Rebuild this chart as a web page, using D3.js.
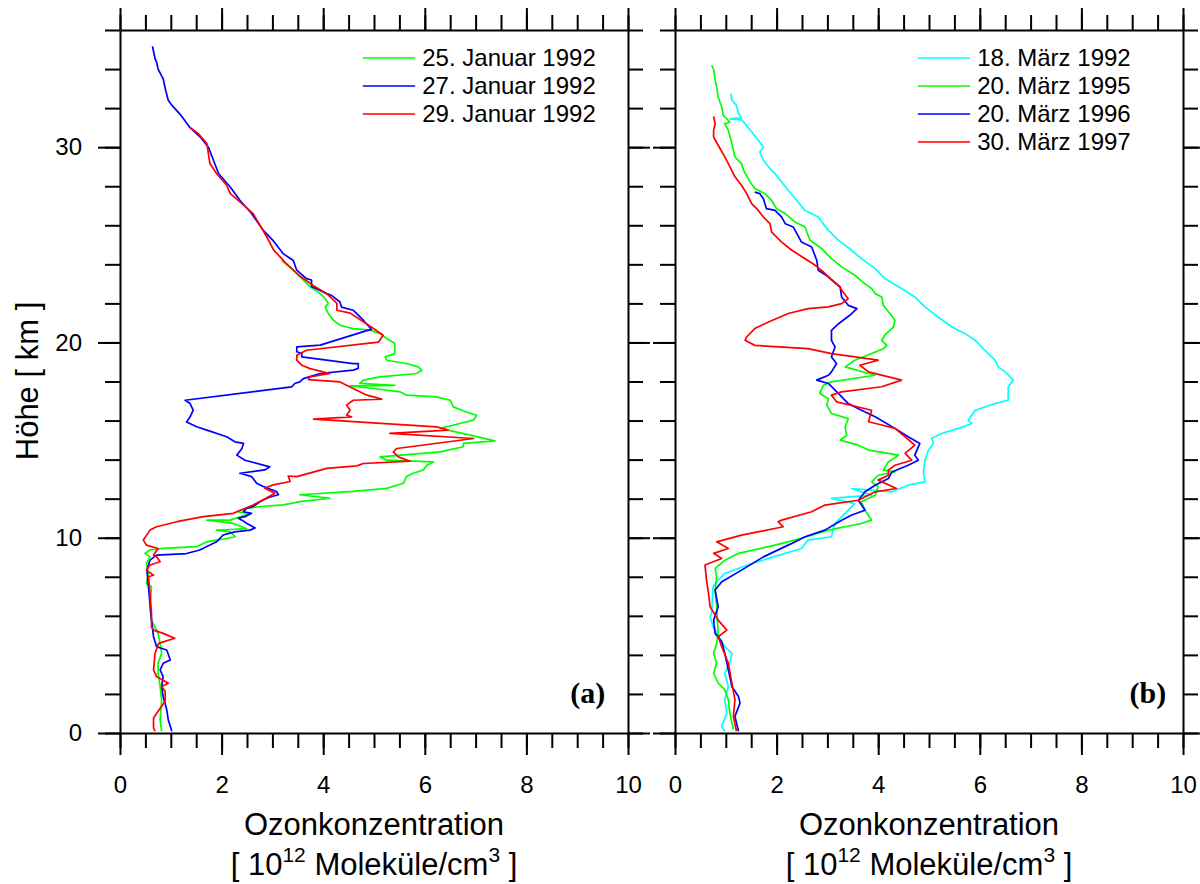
<!DOCTYPE html>
<html>
<head>
<meta charset="utf-8">
<script src="https://d3js.org/d3.v7.min.js"></script>
<style>
  body { margin: 0; background: #fff; }
  svg { display: block; font-family: "Liberation Sans", Arial, sans-serif; }
  .axis path, .axis line { stroke: #000; stroke-width: 2; }
  .axis text { font-size: 24px; fill: #000; font-family: "Liberation Sans", Arial, sans-serif; }
</style>
</head>
<body>
<svg id="chart" width="1200" height="884"></svg>
<script>
// ozone profiles, [concentration (1e12 molecules/cm3), height km], read from top down

// panel (a)
let jan25 = [[3.18,24.2],[3.41,23.7],[3.58,23.27],[3.74,22.86],[3.94,22.5],[4.04,22.25],[4.1,22.0],[4.04,21.81],[4.1,21.48],[4.2,21.14],[4.33,20.88],[4.59,20.71],[4.92,20.63],[5.12,20.45],[5.25,20.2],[5.41,19.95],[5.41,19.43],[5.22,19.26],[5.25,19.09],[5.64,18.92],[5.87,18.75],[5.94,18.58],[5.84,18.41],[5.12,18.24],[4.79,18.07],[4.72,17.9],[5.41,17.8],[4.53,17.78],[4.99,17.64],[5.51,17.47],[5.64,17.3],[6.23,17.21],[6.5,17.04],[6.56,16.7],[6.82,16.44],[7.02,16.27],[6.96,16.02],[6.69,15.85],[6.3,15.6],[6.89,15.25],[7.38,14.96],[6.76,14.83],[6.76,14.66],[6.3,14.4],[5.12,14.14],[5.25,13.97],[6.17,13.88],[6.04,13.71],[5.97,13.47],[5.77,13.3],[5.64,13.13],[5.58,12.79],[5.25,12.53],[4.59,12.37],[3.54,12.2],[4.13,12.02],[3.54,11.85],[3.22,11.68],[2.76,11.6],[2.49,11.5],[2.3,11.33],[2.56,11.25],[2.17,10.9],[1.71,10.9],[2.23,10.73],[2.49,10.47],[2.17,10.42],[1.9,10.39],[2.17,10.3],[2.27,10.05],[2.1,9.96],[1.9,9.88],[1.71,9.79],[1.51,9.54],[0.85,9.45],[0.59,9.37],[0.49,9.2],[0.59,9.03],[0.52,8.69],[0.56,8.17],[0.52,7.66],[0.62,7.49],[0.59,6.47],[0.62,5.78],[0.75,5.1],[0.79,4.59],[0.82,4.08],[0.75,3.57],[0.75,3.06],[0.79,2.38],[0.82,1.7],[0.79,0.68],[0.82,0.09]];

let jan27 = [[0.64,35.17],[0.69,34.53],[0.72,34.36],[0.75,34.0],[0.85,33.5],[0.9,32.9],[0.95,32.4],[1.02,32.15],[1.21,31.6],[1.38,31.0],[1.58,30.52],[1.74,30.0],[1.84,29.33],[1.94,28.65],[2.17,27.96],[2.36,27.28],[2.59,26.6],[2.82,25.74],[3.02,25.2],[3.21,24.55],[3.41,24.2],[3.48,23.7],[3.67,23.27],[3.77,23.2],[3.77,22.86],[4.07,22.5],[4.17,22.4],[4.33,22.07],[4.36,21.81],[4.59,21.65],[4.79,21.14],[4.95,20.66],[4.89,20.63],[3.94,19.86],[3.48,19.77],[3.48,19.52],[3.58,19.43],[3.58,19.26],[4.59,18.92],[4.69,18.92],[4.69,18.67],[4.59,18.58],[3.94,18.41],[3.61,18.15],[3.54,17.98],[3.44,17.9],[3.38,17.72],[1.28,17.04],[1.38,16.87],[1.44,16.53],[1.38,16.19],[1.31,15.93],[1.51,15.68],[1.71,15.51],[2.1,15.17],[2.26,14.91],[2.43,14.83],[2.4,14.57],[2.3,14.23],[2.46,13.97],[2.95,13.63],[2.85,13.47],[2.36,13.3],[2.59,13.13],[2.69,12.79],[2.82,12.62],[3.08,12.37],[3.12,12.2],[2.99,12.11],[2.89,12.02],[2.76,11.85],[2.62,11.6],[2.49,11.5],[2.43,11.33],[2.59,11.25],[2.46,11.08],[2.33,11.0],[2.4,10.9],[2.5,10.73],[2.66,10.5],[2.56,10.39],[2.26,10.3],[2.03,10.14],[1.9,9.79],[1.57,9.37],[1.31,9.19],[0.72,9.11],[0.59,8.85],[0.53,8.34],[0.56,7.49],[0.59,6.64],[0.62,5.78],[0.66,4.93],[0.72,4.42],[0.92,4.25],[0.99,3.74],[0.85,3.57],[0.79,3.23],[0.85,2.89],[0.82,2.38],[0.85,1.87],[0.92,1.19],[0.95,0.68],[1.02,0.09]];

let jan29 = [[1.38,31.0],[1.54,30.7],[1.71,30.18],[1.74,29.67],[1.77,29.16],[1.9,28.65],[2.1,28.05],[2.17,27.62],[2.36,27.2],[2.62,26.6],[2.89,25.4],[3.02,24.75],[3.25,24.1],[3.54,23.4],[3.81,22.9],[4.07,22.5],[4.27,22.0],[4.27,21.65],[4.53,21.5],[4.79,21.06],[4.99,20.71],[5.18,20.37],[5.09,20.02],[3.67,19.6],[3.48,19.34],[3.48,19.09],[3.58,18.83],[3.74,18.66],[4.13,18.41],[3.74,18.24],[3.71,18.1],[4.33,17.98],[4.53,17.72],[4.86,17.3],[5.15,17.1],[4.59,17.04],[4.46,16.79],[4.53,16.53],[4.46,16.27],[4.56,16.19],[3.81,16.07],[6.23,15.68],[6.46,15.51],[5.31,15.34],[6.96,15.08],[5.45,14.57],[5.38,14.4],[5.48,14.14],[5.71,13.92],[4.79,13.8],[4.66,13.68],[4.07,13.55],[3.48,13.13],[3.31,13.16],[3.35,12.88],[3.02,12.71],[2.85,12.54],[3.05,12.28],[2.82,11.94],[2.62,11.68],[2.23,11.25],[1.64,11.08],[1.12,10.82],[0.72,10.56],[0.59,10.39],[0.46,9.88],[0.52,9.62],[0.75,9.45],[0.66,9.11],[0.72,9.03],[0.79,8.77],[0.59,8.6],[0.52,8.34],[0.66,8.08],[0.56,8.0],[0.59,7.15],[0.62,6.13],[0.62,5.44],[0.66,5.27],[0.85,5.1],[1.08,4.85],[0.76,4.59],[0.69,4.08],[0.66,3.23],[0.72,2.89],[0.95,2.55],[0.82,2.38],[0.89,2.13],[0.89,1.62],[0.75,1.11],[0.66,0.77],[0.66,0.26],[0.69,0.09]];

// panel (b)
let mar1992 = [[1.1,32.74],[1.12,32.4],[1.21,32.14],[1.25,31.72],[1.31,31.5],[1.08,31.45],[1.31,31.4],[1.38,31.2],[1.64,30.35],[1.74,30.0],[1.67,29.75],[1.74,29.33],[1.87,28.9],[1.97,28.64],[2.23,27.79],[2.56,26.76],[2.82,26.42],[2.89,26.17],[3.02,25.74],[3.22,25.23],[3.48,24.72],[3.67,24.29],[3.94,23.78],[4.13,23.27],[4.46,22.76],[4.72,22.33],[4.92,21.82],[5.18,21.3],[5.45,20.79],[5.71,20.45],[5.91,20.11],[6.1,19.6],[6.3,19.09],[6.36,18.75],[6.5,18.49],[6.66,18.07],[6.56,17.73],[6.56,17.04],[6.3,16.87],[5.91,16.53],[5.77,16.02],[5.84,15.85],[5.64,15.65],[5.25,15.34],[5.05,15.08],[5.09,14.83],[4.99,14.49],[4.92,13.97],[4.89,13.37],[4.92,12.86],[4.59,12.69],[4.27,12.35],[3.48,12.52],[3.87,12.18],[3.08,12.01],[3.54,11.75],[3.28,11.07],[3.15,10.73],[3.08,10.05],[2.62,9.88],[2.49,9.45],[1.84,8.94],[1.51,8.68],[0.98,8.17],[0.85,7.83],[0.75,7.49],[0.72,6.13],[0.69,5.96],[0.75,5.44],[0.82,5.1],[0.98,4.42],[1.12,4.08],[1.08,3.57],[0.98,3.06],[1.05,2.38],[0.98,1.7],[1.02,1.02],[0.92,0.34],[0.98,0.09]];

let mar1995 = [[0.72,34.19],[0.76,34.0],[0.79,33.42],[0.82,33.08],[0.85,32.57],[0.92,32.06],[0.95,31.63],[1.08,31.29],[0.98,31.2],[1.05,30.86],[1.12,30.18],[1.18,29.5],[1.31,29.16],[1.35,28.82],[1.48,28.22],[1.57,27.88],[1.77,27.62],[1.9,27.28],[2.0,26.85],[2.17,26.6],[2.36,26.17],[2.56,25.91],[2.62,25.48],[2.66,25.23],[2.89,24.8],[3.08,24.29],[3.28,23.87],[3.54,23.44],[3.74,23.0],[3.87,22.76],[3.94,22.5],[4.07,22.33],[4.1,21.9],[4.23,21.48],[4.33,21.14],[4.3,20.79],[4.13,20.37],[4.07,20.11],[4.17,19.85],[4.1,19.68],[3.87,19.43],[3.54,19.09],[3.35,18.75],[3.81,18.41],[3.94,18.32],[3.08,17.98],[2.92,17.81],[2.85,17.38],[3.02,17.12],[2.99,16.78],[3.08,16.36],[3.41,16.1],[3.35,15.68],[3.38,15.25],[3.25,15.0],[3.61,14.74],[3.81,14.49],[4.4,14.23],[4.2,13.88],[4.1,13.46],[4.33,13.37],[4.0,13.2],[3.87,12.86],[4.0,12.61],[3.94,12.18],[3.67,11.84],[3.74,11.41],[3.87,10.9],[3.67,10.73],[3.02,10.39],[2.49,9.97],[1.97,9.62],[1.25,9.2],[0.98,8.85],[0.79,8.43],[0.82,8.0],[0.79,7.32],[0.82,6.47],[0.85,5.1],[0.82,4.59],[0.76,4.08],[0.82,3.57],[0.76,3.06],[0.85,2.56],[0.98,2.21],[1.05,1.7],[1.08,1.02],[1.15,0.17]];

let mar1996 = [[1.57,27.7],[1.67,27.62],[1.74,27.36],[1.8,26.85],[1.97,26.76],[2.1,26.42],[2.17,26.08],[2.33,25.91],[2.4,25.57],[2.49,25.14],[2.69,24.89],[2.79,24.21],[2.82,23.7],[3.02,23.36],[3.25,22.84],[3.28,22.33],[3.41,21.9],[3.58,21.73],[3.44,21.39],[3.22,20.96],[3.08,20.62],[3.08,20.11],[3.15,19.77],[3.08,19.26],[3.18,18.92],[3.08,18.49],[3.02,18.32],[2.79,18.07],[3.02,17.9],[3.22,17.38],[3.41,16.87],[3.61,16.61],[3.94,16.19],[4.33,15.6],[4.59,15.17],[4.82,14.83],[4.72,14.23],[4.79,13.97],[4.59,13.71],[4.27,13.37],[4.2,13.03],[3.94,12.69],[3.74,12.35],[3.61,11.92],[3.74,11.41],[3.48,11.16],[3.28,10.9],[2.95,10.39],[2.56,10.05],[2.3,9.71],[1.74,9.02],[1.31,8.34],[0.92,7.75],[0.79,7.32],[0.85,6.47],[0.76,5.78],[0.79,5.1],[0.92,4.68],[0.98,4.08],[1.05,3.23],[1.12,2.38],[1.25,1.87],[1.28,1.53],[1.18,0.85],[1.25,0.09]];

let mar1997 = [[0.76,31.58],[0.79,31.2],[0.76,30.86],[0.76,30.52],[0.85,30.1],[0.98,29.5],[1.05,29.16],[1.18,28.48],[1.31,28.05],[1.41,27.62],[1.51,27.11],[1.64,26.76],[1.74,26.42],[1.87,26.08],[1.9,25.66],[2.1,25.14],[2.3,24.72],[2.56,24.29],[2.76,23.95],[2.92,23.61],[3.05,23.27],[3.25,22.84],[3.28,22.67],[3.41,22.24],[3.28,21.99],[3.02,21.82],[2.62,21.73],[2.23,21.48],[1.84,21.05],[1.57,20.71],[1.41,20.28],[1.38,20.11],[1.57,19.85],[2.62,19.68],[3.08,19.43],[4.0,19.09],[3.64,18.83],[3.81,18.49],[4.46,18.07],[4.07,17.73],[3.28,17.47],[3.08,17.3],[3.18,16.96],[3.87,16.53],[3.81,15.94],[4.07,15.77],[4.33,15.6],[4.53,15.17],[4.72,14.74],[4.53,14.32],[4.66,13.97],[4.33,13.71],[4.2,13.46],[4.2,13.2],[4.0,12.95],[4.36,12.52],[3.94,12.35],[3.61,11.92],[2.95,11.67],[2.69,11.33],[2.1,10.9],[2.03,10.82],[2.13,10.56],[1.31,10.13],[0.82,9.79],[1.05,9.45],[0.76,9.2],[0.92,8.94],[0.59,8.6],[0.62,7.83],[0.66,7.15],[0.69,6.47],[0.85,5.78],[1.02,5.27],[0.85,4.93],[0.92,4.42],[1.05,3.57],[1.12,2.56],[1.18,1.7],[1.15,0.85],[1.21,0.09]];

let legendA = ["25. Januar 1992", "27. Januar 1992", "29. Januar 1992"];
let legendB = ["18. März 1992", "20. März 1995", "20. März 1996", "30. März 1997"];

let xMajor = [0, 2, 4, 6, 8, 10];
let xMinor = d3.range(0, 10.01, 0.5);
let yMajor = [0, 10, 20, 30];
let yMinor = d3.range(0, 36.01, 2);

let svg = d3.select("#chart");

let y = d3.scaleLinear().domain([0, 36]).range([733, 30]);

let xA = d3.scaleLinear().domain([0, 10]).range([120, 628]);
let xB = d3.scaleLinear().domain([0, 10]).range([675, 1183]);

function drawPanel(x, series, labels, colors, tag, tagAt, yLabels) {
  let g = svg.append("g");

  // minor ticks first, then majors (with domain lines)
  g.append("g").attr("class", "axis").attr("transform", "translate(0,733)")
    .call(d3.axisBottom(x).tickValues(xMinor).tickSize(15).tickFormat(""))
    .call((a) => a.select(".domain").remove());
  g.append("g").attr("class", "axis").attr("transform", "translate(0,733)")
    .call(d3.axisBottom(x).tickValues(xMajor).tickSize(22).tickSizeOuter(0).tickPadding(21));

  g.append("g").attr("class", "axis").attr("transform", "translate(0,30)")
    .call(d3.axisTop(x).tickValues(xMinor).tickSize(15).tickFormat(""))
    .call((a) => a.select(".domain").remove());
  g.append("g").attr("class", "axis").attr("transform", "translate(0,30)")
    .call(d3.axisTop(x).tickValues(xMajor).tickSize(22).tickSizeOuter(0).tickFormat(""));

  let x0 = x.range()[0];
  let x1 = x.range()[1];

  g.append("g").attr("class", "axis").attr("transform", `translate(${x0},0)`)
    .call(d3.axisLeft(y).tickValues(yMinor).tickSize(15).tickFormat(""))
    .call((a) => a.select(".domain").remove());
  g.append("g").attr("class", "axis").attr("transform", `translate(${x0},0)`)
    .call(d3.axisLeft(y).tickValues(yMajor).tickSize(22).tickSizeOuter(0).tickPadding(16)
      .tickFormat(yLabels ? d3.format("d") : ""));

  g.append("g").attr("class", "axis").attr("transform", `translate(${x1},0)`)
    .call(d3.axisRight(y).tickValues(yMinor).tickSize(15).tickFormat(""))
    .call((a) => a.select(".domain").remove());
  g.append("g").attr("class", "axis").attr("transform", `translate(${x1},0)`)
    .call(d3.axisRight(y).tickValues(yMajor).tickSize(22).tickSizeOuter(0).tickFormat(""));

  let line = d3.line().x((d) => x(d[0])).y((d) => y(d[1]));

  g.append("g")
    .selectAll(".profile")
    .data(series)
    .join("path")
    .attr("class", "profile")
    .attr("d", line)
    .style("fill", "none")
    .style("stroke", (d, i) => colors[i])
    .style("stroke-width", 1.7)
    .style("stroke-linejoin", "round");

  // legend
  let leg = g.append("g")
    .selectAll(".leg")
    .data(labels)
    .join("g")
    .attr("class", "leg")
    .attr("transform", (d, i) => `translate(0,${58 + i * 28})`);

  leg.append("line")
    .attr("x1", x(4.78))
    .attr("x2", x(5.81))
    .style("stroke", (d, i) => colors[i])
    .style("stroke-width", 1.7);

  leg.append("text")
    .attr("x", x(5.95))
    .attr("dy", "0.35em")
    .style("font-size", "24px")
    .text((d) => d);

  g.append("text")
    .attr("x", x(tagAt))
    .attr("y", 703)
    .attr("text-anchor", "end")
    .style("font-family", "'Liberation Serif', 'Times New Roman', serif")
    .style("font-weight", "bold")
    .style("font-size", "30px")
    .text(tag);

  // x title
  let cx = (x0 + x1) / 2;
  g.append("text")
    .attr("x", cx)
    .attr("y", 835)
    .attr("text-anchor", "middle")
    .style("font-size", "31px")
    .text("Ozonkonzentration");

  let unit = g.append("text")
    .attr("x", cx)
    .attr("y", 875)
    .attr("text-anchor", "middle")
    .style("font-size", "31px");
  unit.append("tspan").text("[ 10");
  unit.append("tspan").attr("dy", -13).style("font-size", "21px").text("12");
  unit.append("tspan").attr("dy", 13).text(" Moleküle/cm");
  unit.append("tspan").attr("dy", -13).style("font-size", "21px").text("3");
  unit.append("tspan").attr("dy", 13).text(" ]");
}

drawPanel(xA, [jan25, jan27, jan29], legendA, ["#00ff00", "#0000ff", "#ff0000"], "(a)", 9.55, true);
drawPanel(xB, [mar1992, mar1995, mar1996, mar1997], legendB, ["#00ffff", "#00ff00", "#0000ff", "#ff0000"], "(b)", 9.67, false);

svg.append("text")
  .attr("transform", "translate(38,381) rotate(-90)")
  .attr("text-anchor", "middle")
  .style("font-size", "31px")
  .text("Höhe [ km ]");
</script>
</body>
</html>
